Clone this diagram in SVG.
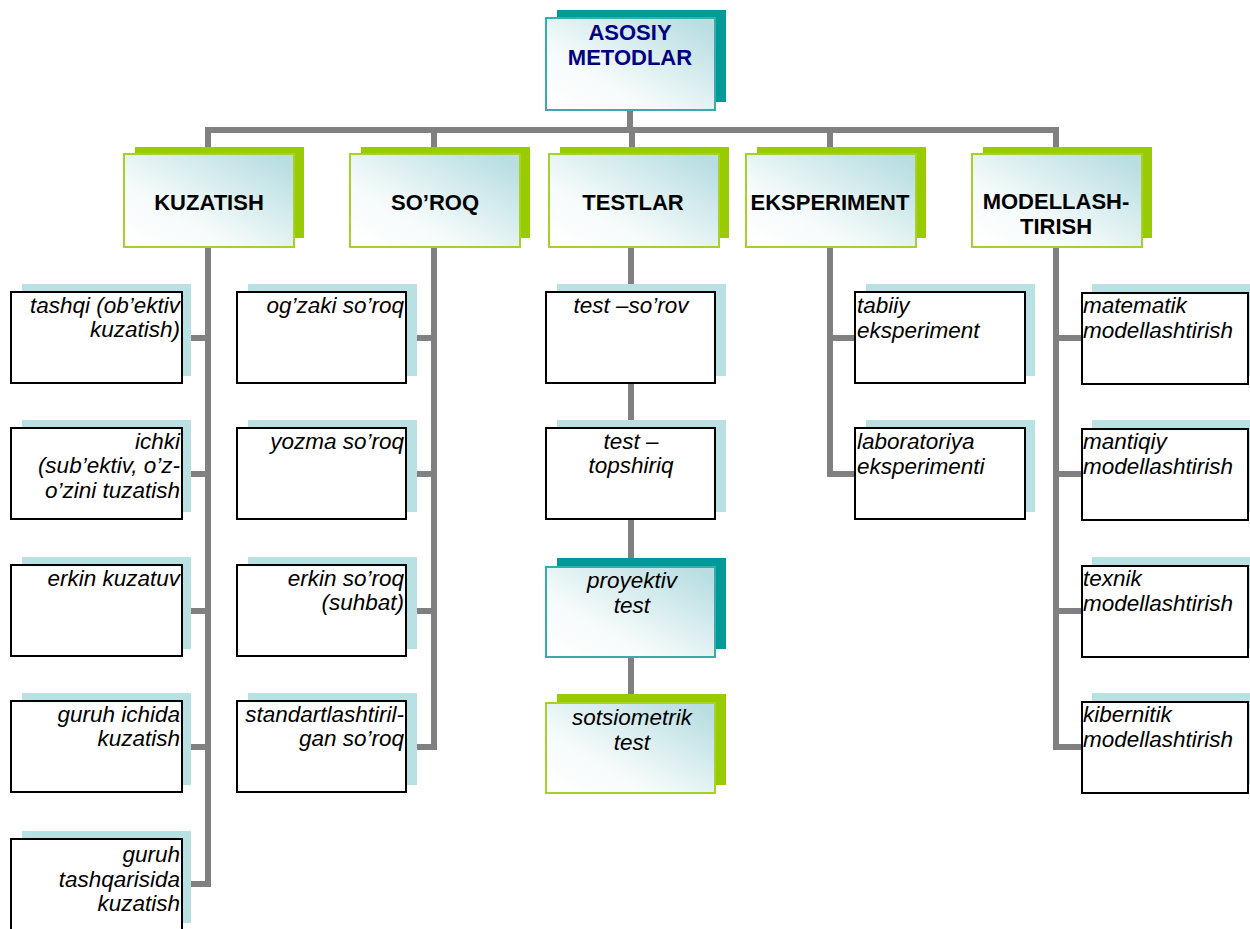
<svg xmlns="http://www.w3.org/2000/svg" width="1250" height="929" viewBox="0 0 1250 929">
<defs>
<linearGradient id="grad" x1="0.05" y1="0.95" x2="0.95" y2="0.1">
<stop offset="0" stop-color="#ffffff"/>
<stop offset="0.35" stop-color="#f4fafa"/>
<stop offset="1" stop-color="#b9dee2"/>
</linearGradient>
<style>
.conn{fill:none;stroke:#808080;stroke-width:6;stroke-linejoin:miter;stroke-linecap:butt}
.shT{fill:#009999}
.shG{fill:#99cc00}
.shB{fill:#b9e0e3}
.mT{fill:url(#grad);stroke:#3aabab;stroke-width:2}
.mG{fill:url(#grad);stroke:#a6d12a;stroke-width:2}
.mB{fill:#ffffff;stroke:#000000;stroke-width:2}
.tb{font-family:"Liberation Sans",Arial,sans-serif;font-weight:bold;font-size:22px;fill:#000000;text-anchor:middle}
.tn{fill:#000080}
.ti{font-family:"Liberation Sans",Arial,sans-serif;font-style:italic;font-size:22.5px;fill:#000000}
.r{text-anchor:end}
.c{text-anchor:middle}
.l{text-anchor:start}
</style>
</defs>
<rect width="1250" height="929" fill="#ffffff"/>
<g id="connectors">
<path class="conn" d="M630,110 V130"/>
<path class="conn" d="M208,154 V130 H1056 V154"/>
<path class="conn" d="M434,130 V154 M632,130 V154 M830,130 V154"/>
<path class="conn" d="M208,247 V884 H182 M182,338 H208 M182,474 H208 M182,611 H208 M182,747 H208"/>
<path class="conn" d="M434,247 V747 H406 M406,338 H434 M406,474 H434 M406,611 H434"/>
<path class="conn" d="M631,247 V701"/>
<path class="conn" d="M830,247 V474 H855 M830,338 H855"/>
<path class="conn" d="M1056,247 V747 H1082 M1056,338 H1082 M1056,474 H1082 M1056,611 H1082"/>
</g>
<g id="n-asosiy">
<rect class="shT" x="557" y="10" width="169" height="92"/>
<rect class="mT" x="546" y="18" width="169" height="92"/>
<text class="tb tn" x="630" y="40">ASOSIY</text>
<text class="tb tn" x="630" y="65">METODLAR</text>
</g>
<g id="n-kuzatish">
<rect class="shG" x="135" y="147" width="169" height="91"/>
<rect class="mG" x="124" y="154" width="170" height="93"/>
<text class="tb" x="209" y="210">KUZATISH</text>
</g>
<g id="n-soroq">
<rect class="shG" x="361" y="147" width="169" height="91"/>
<rect class="mG" x="350" y="154" width="170" height="93"/>
<text class="tb" x="435" y="210">SO’ROQ</text>
</g>
<g id="n-testlar">
<rect class="shG" x="560" y="147" width="169" height="91"/>
<rect class="mG" x="549" y="154" width="170" height="93"/>
<text class="tb" x="633" y="210">TESTLAR</text>
</g>
<g id="n-eksperiment">
<rect class="shG" x="757" y="147" width="169" height="91"/>
<rect class="mG" x="746" y="154" width="170" height="93"/>
<text class="tb" x="830" y="210">EKSPERIMENT</text>
</g>
<g id="n-modellash">
<rect class="shG" x="983" y="147" width="169" height="91"/>
<rect class="mG" x="972" y="154" width="170" height="93"/>
<text class="tb" x="1056" y="209">MODELLASH-</text>
<text class="tb" x="1056" y="234">TIRISH</text>
</g>
<g id="k1">
<rect class="shB" x="22" y="284" width="169" height="92"/>
<rect class="mB" x="11" y="292" width="171" height="91"/>
<text class="ti r" x="180" y="313">tashqi (ob’ektiv</text>
<text class="ti r" x="180" y="337">kuzatish)</text>
</g>
<g id="k2">
<rect class="shB" x="22" y="420" width="169" height="92"/>
<rect class="mB" x="11" y="428" width="171" height="91"/>
<text class="ti r" x="180" y="449">ichki</text>
<text class="ti r" x="180" y="473">(sub’ektiv, o’z-</text>
<text class="ti r" x="180" y="498">o’zini tuzatish</text>
</g>
<g id="k3">
<rect class="shB" x="22" y="557" width="169" height="92"/>
<rect class="mB" x="11" y="565" width="171" height="91"/>
<text class="ti r" x="180" y="586">erkin kuzatuv</text>
</g>
<g id="k4">
<rect class="shB" x="22" y="693" width="169" height="92"/>
<rect class="mB" x="11" y="701" width="171" height="91"/>
<text class="ti r" x="180" y="722">guruh ichida</text>
<text class="ti r" x="180" y="746">kuzatish</text>
</g>
<g id="k5">
<rect class="shB" x="22" y="831" width="169" height="92"/>
<rect class="mB" x="11" y="839" width="171" height="91"/>
<text class="ti r" x="180" y="862">guruh</text>
<text class="ti r" x="180" y="887">tashqarisida</text>
<text class="ti r" x="180" y="911">kuzatish</text>
</g>
<g id="s1">
<rect class="shB" x="248" y="284" width="169" height="92"/>
<rect class="mB" x="237" y="292" width="169" height="91"/>
<text class="ti r" x="404" y="313">og’zaki so’roq</text>
</g>
<g id="s2">
<rect class="shB" x="248" y="420" width="169" height="92"/>
<rect class="mB" x="237" y="428" width="169" height="91"/>
<text class="ti r" x="404" y="449">yozma so’roq</text>
</g>
<g id="s3">
<rect class="shB" x="248" y="557" width="169" height="92"/>
<rect class="mB" x="237" y="565" width="169" height="91"/>
<text class="ti r" x="404" y="586">erkin so’roq</text>
<text class="ti r" x="404" y="610">(suhbat)</text>
</g>
<g id="s4">
<rect class="shB" x="248" y="693" width="169" height="92"/>
<rect class="mB" x="237" y="701" width="169" height="91"/>
<text class="ti r" x="404" y="722">standartlashtiril-</text>
<text class="ti r" x="404" y="746">gan so’roq</text>
</g>
<g id="t1">
<rect class="shB" x="557" y="284" width="169" height="92"/>
<rect class="mB" x="546" y="292" width="169" height="91"/>
<text class="ti c" x="631" y="313">test –so’rov</text>
</g>
<g id="t2">
<rect class="shB" x="557" y="420" width="169" height="92"/>
<rect class="mB" x="546" y="428" width="169" height="91"/>
<text class="ti c" x="631" y="449">test –</text>
<text class="ti c" x="631" y="473">topshiriq</text>
</g>
<g id="t3">
<rect class="shT" x="557" y="558" width="169" height="91"/>
<rect class="mT" x="546" y="567" width="169" height="90"/>
<text class="ti c" x="632" y="588">proyektiv</text>
<text class="ti c" x="632" y="613">test</text>
</g>
<g id="t4">
<rect class="shG" x="557" y="694" width="169" height="91"/>
<rect class="mG" x="546" y="703" width="169" height="90"/>
<text class="ti c" x="632" y="725">sotsiometrik</text>
<text class="ti c" x="632" y="750">test</text>
</g>
<g id="e1">
<rect class="shB" x="866" y="284" width="169" height="92"/>
<rect class="mB" x="855" y="292" width="170" height="91"/>
<text class="ti l" x="857" y="313">tabiiy</text>
<text class="ti l" x="857" y="338">eksperiment</text>
</g>
<g id="e2">
<rect class="shB" x="866" y="420" width="169" height="92"/>
<rect class="mB" x="855" y="428" width="170" height="91"/>
<text class="ti l" x="857" y="449">laboratoriya</text>
<text class="ti l" x="857" y="474">eksperimenti</text>
</g>
<g id="m1">
<rect class="shB" x="1092" y="284" width="169" height="92"/>
<rect class="mB" x="1082" y="293" width="166" height="91"/>
<text class="ti l" x="1083" y="313">matematik</text>
<text class="ti l" x="1083" y="338">modellashtirish</text>
</g>
<g id="m2">
<rect class="shB" x="1092" y="420" width="169" height="92"/>
<rect class="mB" x="1082" y="429" width="166" height="91"/>
<text class="ti l" x="1083" y="449">mantiqiy</text>
<text class="ti l" x="1083" y="474">modellashtirish</text>
</g>
<g id="m3">
<rect class="shB" x="1092" y="557" width="169" height="92"/>
<rect class="mB" x="1082" y="566" width="166" height="91"/>
<text class="ti l" x="1083" y="586">texnik</text>
<text class="ti l" x="1083" y="611">modellashtirish</text>
</g>
<g id="m4">
<rect class="shB" x="1092" y="693" width="169" height="92"/>
<rect class="mB" x="1082" y="702" width="166" height="91"/>
<text class="ti l" x="1083" y="722">kibernitik</text>
<text class="ti l" x="1083" y="747">modellashtirish</text>
</g>
</svg>
